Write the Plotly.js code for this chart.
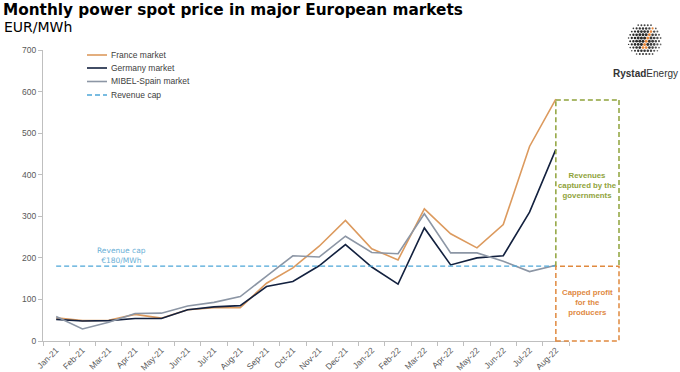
<!DOCTYPE html>
<html>
<head>
<meta charset="utf-8">
<script src="https://cdn.plot.ly/plotly-3.0.1.min.js"></script>
<style>html,body{margin:0;padding:0;background:#fff;}#chart{width:680px;height:372px;}</style>
</head>
<body>
<div id="chart"></div>
<script>
// ---- data ----
const months = ['Jan-21','Feb-21','Mar-21','Apr-21','May-21','Jun-21','Jul-21','Aug-21','Sep-21','Oct-21','Nov-21','Dec-21',
                'Jan-22','Feb-22','Mar-22','Apr-22','May-22','Jun-22','Jul-22','Aug-22'];
const france  = [56,49,50,64,55,75,80,80,139,176,228,290,222,195,318,258,224,280,468,582];
const germany = [52,48,49,54,54,75,82,85,131,143,181,232,178,137,272,183,200,205,310,461];
const spain   = [59,29,45,66,67,84,93,107,156,205,202,252,213,210,306,212,212,192,167,182];
const revenueCap = [180,180,180,180,180,180,180,180,180,180,180,180,180,180,180,180,180,180,180,180];
const seriesNames = ['France market','Germany market','MIBEL-Spain market','Revenue cap'];
const yTicks = [0,100,200,300,400,500,600,700];
const capValue = 180;
const capturedTop = 580;

// ---- layout helpers ----
const W = 680, H = 372, L = 43, R = 111, T = 50, B = 31;
const PW = W - L - R, PH = H - T - B;
const YMAX = 700;
const px = x => (x - L) / PW;
const py = y => (H - B - y) / PH;

const colors = ['#DC9A5E', '#13213F', '#8C96A5', '#4DA6D8'];
const lineW = 1.6;

const traces = [
  {x: months, y: france, name: seriesNames[0], type: 'scatter', mode: 'lines', line: {color: colors[0], width: lineW}},
  {x: months, y: germany, name: seriesNames[1], type: 'scatter', mode: 'lines', line: {color: colors[1], width: lineW}},
  {x: months, y: spain, name: seriesNames[2], type: 'scatter', mode: 'lines', line: {color: colors[2], width: lineW}},
  {x: months, y: revenueCap, name: seriesNames[3], type: 'scatter', mode: 'lines', line: {color: colors[3], width: 1.3, dash: '5px,3px'}}
];

const shapes = [];
const annotations = [];
const smallFont = {family: 'Liberation Sans, Arial, sans-serif', size: 8.5, color: '#404040'};

// custom compact legend
const legendY = [55, 68, 81.5, 95];
seriesNames.forEach((n, i) => {
  shapes.push({type: 'line', xref: 'paper', yref: 'paper', x0: px(87), x1: px(107), y0: py(legendY[i]), y1: py(legendY[i]),
    line: {color: colors[i], width: i === 3 ? 1.3 : lineW, dash: i === 3 ? '5px,3px' : 'solid'}});
  annotations.push({text: n, xref: 'paper', yref: 'paper', x: px(109), y: py(legendY[i]), xanchor: 'left', yanchor: 'middle',
    showarrow: false, font: smallFont});
});

// boxes
const boxX0 = (months.length - 1 + 0.5) / months.length; // centre of last category
const boxX1 = px(619);
const green = '#8FA33B', orange = '#E0893F';
const boxDash = '5px,3px';
const yCap = capValue / YMAX, yTop = capturedTop / YMAX;
// green box: left, top, right (bottom edge shared with orange box)
[[boxX0, yCap, boxX0, yTop], [boxX0, yTop, boxX1, yTop], [boxX1, yTop, boxX1, yCap]].forEach(s => {
  shapes.push({type: 'line', xref: 'paper', yref: 'paper', x0: s[0], y0: s[1], x1: s[2], y1: s[3],
    line: {color: green, width: 1.5, dash: boxDash}});
});
shapes.push({type: 'rect', xref: 'paper', yref: 'paper', x0: boxX0, x1: boxX1, y0: 0, y1: yCap,
  line: {color: orange, width: 1.5, dash: boxDash}, fillcolor: 'rgba(0,0,0,0)'});
annotations.push({text: 'Revenues<br>captured by the<br>governments', xref: 'paper', yref: 'paper',
  x: (boxX0 + boxX1) / 2, y: py(185), xanchor: 'center', yanchor: 'middle', showarrow: false,
  font: {family: 'Liberation Sans, Arial, sans-serif', size: 7.8, color: green, weight: 'bold'}});
annotations.push({text: 'Capped profit<br>for the<br>producers', xref: 'paper', yref: 'paper',
  x: (boxX0 + boxX1) / 2, y: py(302), xanchor: 'center', yanchor: 'middle', showarrow: false,
  font: {family: 'Liberation Sans, Arial, sans-serif', size: 7.8, color: orange, weight: 'bold'}});

// revenue cap label
annotations.push({text: 'Revenue cap<br>€180/MWh', xref: 'paper', yref: 'paper', x: px(121), y: py(256),
  xanchor: 'center', yanchor: 'middle', showarrow: false,
  font: {family: 'DejaVu Sans, Verdana, sans-serif', size: 7.5, color: '#6AAFD6'}});

// subtitle
annotations.push({text: 'EUR/MWh', xref: 'paper', yref: 'paper', x: px(2), y: py(27), xanchor: 'left', yanchor: 'middle',
  showarrow: false, font: {family: 'DejaVu Sans, Verdana, sans-serif', size: 14, color: '#000'}});

// logo text
annotations.push({text: '<b>Rystad</b>Energy', xref: 'paper', yref: 'paper', x: px(645), y: py(73), xanchor: 'center', yanchor: 'middle',
  showarrow: false, font: {family: 'Liberation Sans, Arial, sans-serif', size: 10, color: '#333333'}});

// logo globe (decoration)
const gcx = 645, gcy = 40, gr = 18, step = 3.2;
for (let gy = -gr; gy <= gr; gy += step) {
  const row = Math.round((gy + gr) / step);
  for (let gx = -gr + (row % 2 ? step / 2 : 0); gx <= gr; gx += step) {
    const d = Math.sqrt(gx * gx + gy * gy);
    if (d > gr - 0.8) continue;
    const shade = Math.sqrt(Math.max(0, 1 - (d / gr) * (d / gr)));
    const light = Math.max(0, Math.min(1, 0.55 + 0.45 * shade - 0.012 * gx));
    const rad = 0.3 + 1.25 * shade;
    const cx = gcx + gx, cy = gcy + gy;
    // diagonal orange band
    const t = ((cx - 653) * (-8) + (cy - 26) * 20) / (64 + 400);
    const qx = 653 - 8 * t, qy = 26 + 20 * t;
    const dist = Math.hypot(cx - qx, cy - qy);
    const isOrange = dist < 2.0 && cy < 50 && cy > 24;
    const g = Math.round(40 + (1 - light) * 150);
    shapes.push({type: 'circle', xref: 'paper', yref: 'paper', x0: px(cx - rad), x1: px(cx + rad), y0: py(cy + rad), y1: py(cy - rad),
      line: {width: 0}, fillcolor: isOrange ? '#E8873A' : `rgb(${g},${g},${g})`});
  }
}

const layout = {
  width: W, height: H,
  margin: {l: L, r: R, t: T, b: B, pad: 0},
  paper_bgcolor: '#ffffff', plot_bgcolor: '#ffffff',
  showlegend: false,
  title: {text: '<b>Monthly power spot price in major European markets</b>', xref: 'container', yref: 'container',
    x: 3 / W, xanchor: 'left', y: 1 - 10 / H, yanchor: 'middle',
    font: {family: 'DejaVu Sans, Verdana, sans-serif', size: 15.3, color: '#000'}},
  xaxis: {type: 'category', range: [-0.5, months.length - 0.5], tickson: 'boundaries', ticks: 'outside', ticklen: 4,
    tickcolor: '#BFBFBF', showline: true, linecolor: '#BFBFBF', linewidth: 1, showgrid: false, zeroline: false,
    tickangle: -45, tickfont: {family: 'Liberation Sans, Arial, sans-serif', size: 8.5, color: '#595959'}},
  yaxis: {range: [0, YMAX], tickvals: yTicks, ticks: 'outside', ticklen: 4, tickcolor: '#BFBFBF',
    showline: true, linecolor: '#BFBFBF', linewidth: 1, showgrid: false, zeroline: false,
    tickfont: {family: 'Liberation Sans, Arial, sans-serif', size: 8.5, color: '#595959'}},
  shapes: shapes,
  annotations: annotations
};

Plotly.newPlot('chart', traces, layout, {displayModeBar: false, staticPlot: true});
</script>
</body>
</html>
